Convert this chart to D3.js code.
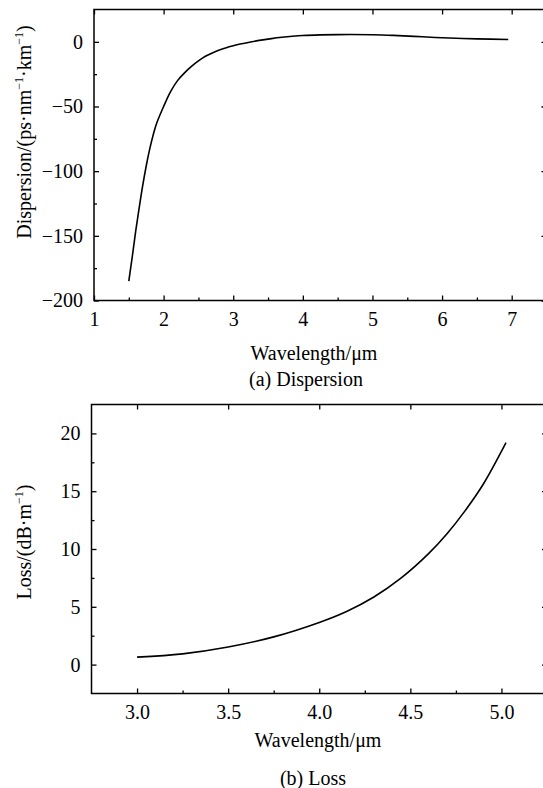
<!DOCTYPE html>
<html>
<head>
<meta charset="utf-8">
<script src="https://cdn.jsdelivr.net/npm/d3@7"></script>
<style>
  html, body { margin: 0; padding: 0; background: #fff; }
  svg { display: block; }
  svg text { font-family: 'Liberation Serif', 'Times New Roman', Times, 'DejaVu Serif', serif !important; fill: #000; }
</style>
</head>
<body>
<svg id="chart" width="543" height="788" font-family="'Liberation Serif', 'Times New Roman', serif"></svg>
<script>
// ---- Data: (a) Dispersion ----
const dispWavelength = [1.5, 1.55, 1.6, 1.65, 1.7, 1.75, 1.8, 1.85, 1.9, 2.0, 2.1, 2.2, 2.3, 2.4, 2.5, 2.6, 2.7, 2.8, 2.9, 3.0, 3.1, 3.25, 3.4, 3.55, 3.7, 3.85, 4.0, 4.25, 4.5, 5.0, 5.3, 5.6, 5.9, 6.2, 6.5, 6.95];
const dispValue      = [-185, -166, -146, -128, -111, -96, -83, -72, -63, -50, -38.5, -30, -24, -19, -14.8, -11.2, -8.6, -6.4, -4.5, -3.0, -1.7, -0.1, 1.3, 2.5, 3.5, 4.3, 4.9, 5.4, 5.6, 5.5, 5.0, 4.2, 3.4, 2.8, 2.3, 1.8];
const dispXTicks = [1, 2, 3, 4, 5, 6, 7];
const dispXMinor = [1.5, 2.5, 3.5, 4.5, 5.5, 6.5];
const dispYTicks = [-200, -150, -100, -50, 0];
const dispYMinor = [-175, -125, -75, -25];

// ---- Data: (b) Loss ----
const lossWavelength = [3.0, 3.25, 3.5, 3.75, 4.0, 4.15, 4.3, 4.45, 4.6, 4.7, 4.8, 4.9, 5.025];
const lossValue      = [0.65, 0.93, 1.52, 2.4, 3.65, 4.6, 5.85, 7.5, 9.6, 11.3, 13.3, 15.6, 19.2];
const lossXTicks = [3.0, 3.5, 4.0, 4.5, 5.0];
const lossXMinor = [3.25, 3.75, 4.25, 4.75];
const lossYTicks = [0, 5, 10, 15, 20];
const lossYMinor = [2.5, 7.5, 12.5, 17.5];

const svg = d3.select("#chart");
const FS = 20;
const FONT = "'Liberation Serif', 'Times New Roman', serif";

function fmtMinus(s) { return String(s).replace("-", "\u2212"); }

function panel(cfg) {
  const g = svg.append("g");
  const x = d3.scaleLinear().domain(cfg.xDomain).range([cfg.left, cfg.right]);
  const y = d3.scaleLinear().domain(cfg.yDomain).range([cfg.bottom, cfg.top]);

  const pts = cfg.xs.map((v, i) => [v, cfg.ys[i]]);
  g.append("path")
    .datum(pts)
    .attr("fill", "none")
    .attr("stroke", "#000")
    .attr("stroke-width", 1.6)
    .attr("d", d3.line().x(d => x(d[0])).y(d => y(d[1])).curve(d3.curveCatmullRom.alpha(0.5)));

  g.append("g").attr("transform", `translate(0,${cfg.bottom})`)
    .call(d3.axisBottom(x).tickValues(cfg.xTicks).tickSize(-5).tickSizeOuter(0).tickPadding(11).tickFormat(cfg.xFmt));
  g.append("g").attr("transform", `translate(0,${cfg.bottom})`)
    .call(d3.axisBottom(x).tickValues(cfg.xMinor).tickSize(-3).tickSizeOuter(0).tickFormat(""));
  g.append("g").attr("transform", `translate(0,${cfg.top})`)
    .call(d3.axisTop(x).tickValues(cfg.xTicks).tickSize(-5).tickSizeOuter(0).tickFormat(""));
  g.append("g").attr("transform", `translate(${cfg.left},0)`)
    .call(d3.axisLeft(y).tickValues(cfg.yTicks).tickSize(-5).tickSizeOuter(0).tickPadding(11).tickFormat(d => fmtMinus(d)));
  g.append("g").attr("transform", `translate(${cfg.left},0)`)
    .call(d3.axisLeft(y).tickValues(cfg.yMinor).tickSize(-3).tickSizeOuter(0).tickFormat(""));
  g.append("g").attr("transform", `translate(${cfg.right},0)`)
    .call(d3.axisRight(y).tickValues(cfg.yTicks).tickSize(-5).tickSizeOuter(0).tickFormat(""));

  g.selectAll(".domain").remove();
  g.selectAll("g").attr("font-family", FONT).attr("font-size", FS);
  g.selectAll(".tick line").attr("stroke", "#000").attr("stroke-width", 1.3);
  g.selectAll(".tick text").attr("font-size", FS).attr("font-family", FONT).attr("fill", "#000");

  g.append("rect")
    .attr("x", cfg.left).attr("y", cfg.top)
    .attr("width", cfg.right - cfg.left).attr("height", cfg.bottom - cfg.top)
    .attr("fill", "none").attr("stroke", "#000").attr("stroke-width", 1.5);

  g.append("text").attr("x", cfg.xTitleX).attr("y", cfg.xTitleY)
    .attr("text-anchor", "middle").attr("font-size", FS).attr("font-family", FONT).text("Wavelength/\u03bcm");
  g.append("text").attr("x", cfg.capX).attr("y", cfg.capY)
    .attr("text-anchor", "middle").attr("font-size", FS).attr("font-family", FONT).text(cfg.caption);

  const yt = g.append("text")
    .attr("transform", `translate(${cfg.yTitleX},${cfg.yTitleY}) rotate(-90)`)
    .attr("text-anchor", "middle").attr("font-size", FS).attr("font-family", FONT);
  cfg.yTitleParts.forEach(p => {
    const ts = yt.append("tspan").text(p.t);
    if (p.sup) {
      ts.attr("font-size", 12).attr("dy", -8);
    } else if (p.after) {
      ts.attr("dy", 8);
    }
  });
}

panel({
  xDomain: [1, 7.5], yDomain: [-200, 25],
  left: 94, right: 546.5, top: 9.5, bottom: 300.5,
  xs: dispWavelength, ys: dispValue,
  xTicks: dispXTicks, xMinor: dispXMinor, yTicks: dispYTicks, yMinor: dispYMinor,
  xFmt: d => d3.format("d")(d),
  xTitleX: 314, xTitleY: 360,
  capX: 306, capY: 386, caption: "(a) Dispersion",
  yTitleX: 31, yTitleY: 132,
  yTitleParts: [
    {t: "Dispersion/(ps\u00b7nm"}, {t: "\u22121", sup: true},
    {t: "\u00b7km", after: true}, {t: "\u22121", sup: true}, {t: ")", after: true}
  ]
});

panel({
  xDomain: [2.75, 5.25], yDomain: [-2.5, 22.5],
  left: 91.5, right: 547, top: 404.5, bottom: 693.5,
  xs: lossWavelength, ys: lossValue,
  xTicks: lossXTicks, xMinor: lossXMinor, yTicks: lossYTicks, yMinor: lossYMinor,
  xFmt: d => d3.format(".1f")(d),
  xTitleX: 318, xTitleY: 747,
  capX: 313, capY: 785, caption: "(b) Loss",
  yTitleX: 31, yTitleY: 542,
  yTitleParts: [
    {t: "Loss/(dB\u00b7m"}, {t: "\u22121", sup: true}, {t: ")", after: true}
  ]
});
</script>
</body>
</html>
